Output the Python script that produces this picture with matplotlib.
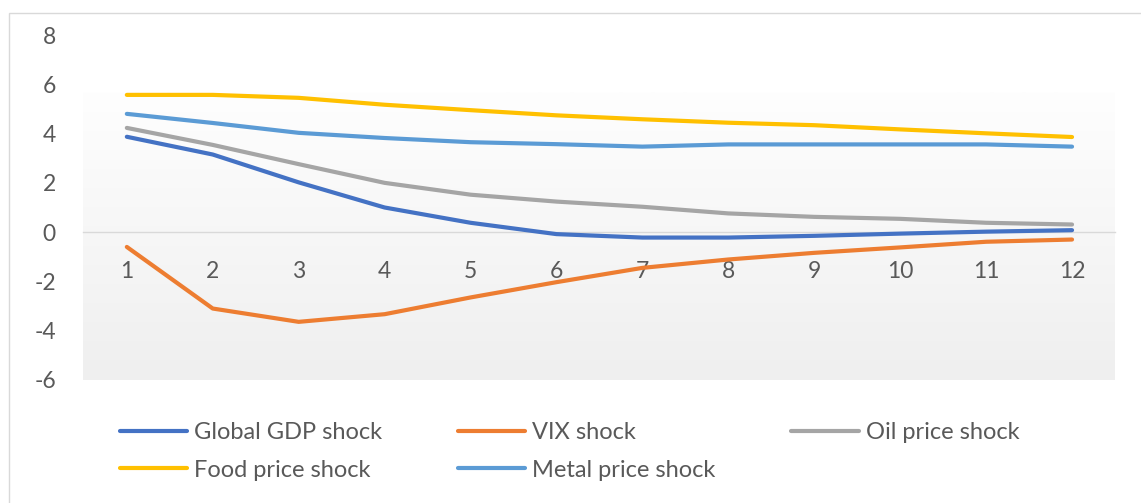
import numpy as np
import matplotlib
matplotlib.use("Agg")
import matplotlib.pyplot as plt
from matplotlib.patches import Rectangle
from matplotlib.colors import LinearSegmentedColormap

plt.rcParams['font.family'] = ['Lato', 'DejaVu Sans']

periods = list(range(1, 13))
global_gdp = [3.87, 3.15, 2.02, 1.00, 0.38, -0.08, -0.22, -0.22, -0.15, -0.06, 0.02, 0.08]
vix = [-0.60, -3.10, -3.64, -3.33, -2.65, -2.03, -1.45, -1.11, -0.84, -0.62, -0.39, -0.30]
oil_price = [4.23, 3.54, 2.76, 2.00, 1.52, 1.24, 1.03, 0.76, 0.62, 0.54, 0.38, 0.31]
food_price = [5.57, 5.57, 5.45, 5.17, 4.95, 4.74, 4.58, 4.44, 4.34, 4.17, 4.01, 3.86]
metal_price = [4.80, 4.43, 4.03, 3.82, 3.65, 3.57, 3.47, 3.56, 3.56, 3.56, 3.56, 3.47]

series = [
    ("Global GDP shock", global_gdp, "#4472C4"),
    ("VIX shock", vix, "#ED7D31"),
    ("Oil price shock", oil_price, "#A5A5A5"),
    ("Food price shock", food_price, "#FFC000"),
    ("Metal price shock", metal_price, "#5B9BD5"),
]
y_ticks = [-6, -4, -2, 0, 2, 4, 6, 8]

W, H = 1141, 503
fig = plt.figure(figsize=(W / 100, H / 100), dpi=100)
fig.patch.set_facecolor("white")

# chart area border
fig.patches.append(Rectangle((9 / W, -0.05), 1.2, (503 - 13) / H + 0.05,
                             transform=fig.transFigure, fill=False,
                             edgecolor="#d9d9d9", linewidth=1.0))

ax = fig.add_axes([83 / W, (503 - 380) / H, 1032 / W, 345 / H])
ax.set_xlim(0.49, 12.5)
ax.set_ylim(-6, 8)

# plot-area gradient fill
grad = np.linspace(0, 1, 256).reshape(-1, 1)
cmap = LinearSegmentedColormap.from_list("pa", ["#efefef", "#fefefe"])
ax.imshow(grad, extent=[0.49, 12.5, -6, 5.65], origin="lower", aspect="auto",
          cmap=cmap, zorder=0, interpolation="bilinear")

lines = {}
for name, vals, col in series:
    ln, = ax.plot(periods, vals, color=col, linewidth=3.0, label=name,
                  solid_capstyle="round", solid_joinstyle="round", zorder=3)
    lines[name] = ln

for s in ["top", "right", "left"]:
    ax.spines[s].set_visible(False)
ax.spines["bottom"].set_position(("data", 0))
ax.spines["bottom"].set_color("#d9d9d9")
ax.spines["bottom"].set_linewidth(1.0)
ax.spines["bottom"].set_zorder(2)

ax.set_xticks(periods)
ax.set_xticklabels([str(p) for p in periods])
ax.set_yticks(y_ticks)
ax.set_yticklabels([str(t) for t in y_ticks])
ax.tick_params(axis="x", length=0, pad=20.5, labelsize=16.5, labelcolor="#595959")
ax.tick_params(axis="y", length=0, pad=19.5, labelsize=16.5, labelcolor="#595959")

order = ["Global GDP shock", "Food price shock", "VIX shock",
         "Metal price shock", "Oil price shock"]
fig.legend([lines[n] for n in order], order, ncol=3, frameon=False,
           loc="upper left", bbox_to_anchor=(120 / W, (503 - 422) / H),
           fontsize=17, labelcolor="#595959", handlelength=2.85,
           handletextpad=0.3, columnspacing=3.2, labelspacing=0.7,
           borderpad=0, borderaxespad=0)

fig.savefig("out.png", dpi=100)
